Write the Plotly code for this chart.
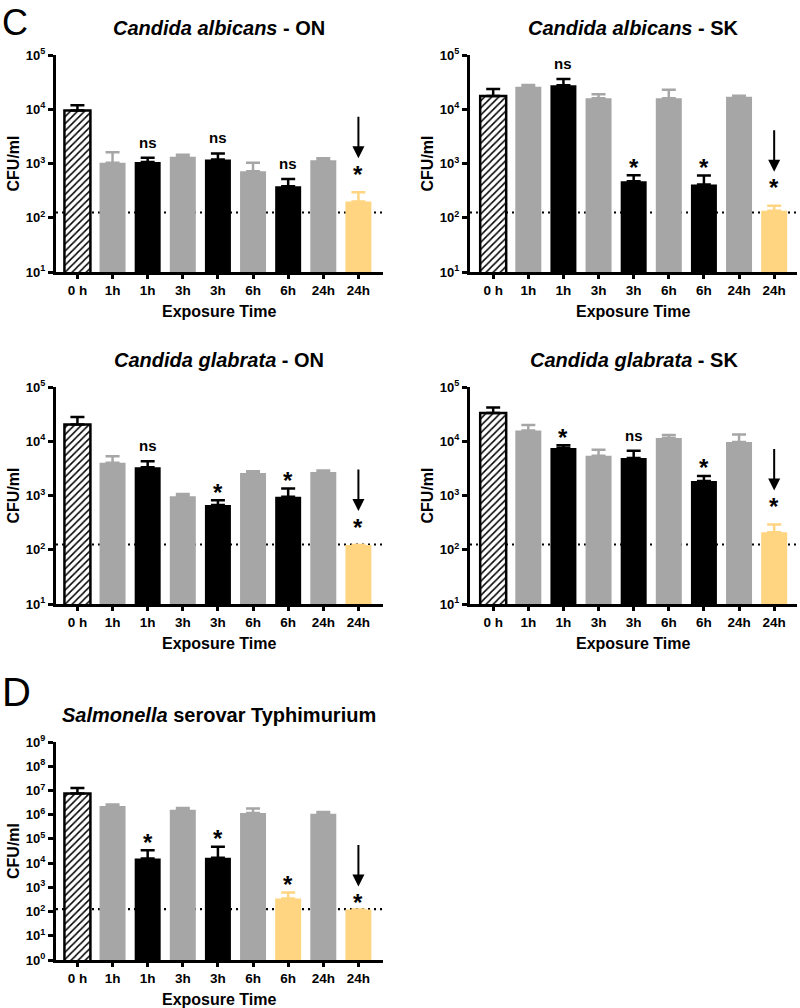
import math
import plotly.graph_objects as go

# ---------------- data ----------------
CATEGORIES = ["0 h", "1h", "1h", "3h", "3h", "6h", "6h", "24h", "24h"]
LOD = 125  # detection limit (dotted line)

GROUPS_CANDIDA = ["hatch", "grey", "black", "grey", "black", "grey", "black", "grey", "yellow"]
GROUPS_SALMONELLA = ["hatch", "grey", "black", "grey", "black", "grey", "yellow", "grey", "yellow"]

CA_ON_MEAN = [9500, 1030, 1070, 1330, 1190, 720, 380, 1150, 200]
CA_ON_TOP = [11800, 1620, 1270, 1450, 1530, 1030, 520, 1250, 295]
CA_ON_MARKS = ["", "", "ns", "", "ns", "", "ns", "", "arrow*"]

CA_SK_MEAN = [17600, 26000, 27800, 16000, 470, 16000, 410, 17000, 135]
CA_SK_TOP = [23500, 28000, 36000, 19000, 610, 23000, 600, 17800, 167]
CA_SK_MARKS = ["", "", "ns", "", "*", "", "*", "", "arrow*"]

CG_ON_MEAN = [20300, 4000, 3300, 970, 670, 2600, 950, 2700, 122]
CG_ON_TOP = [28000, 5300, 4300, 1070, 820, 2800, 1350, 2900, 122]
CG_ON_MARKS = ["", "", "ns", "", "*", "", "*", "", "arrow*"]

CG_SK_MEAN = [33000, 15700, 7500, 5400, 4900, 11500, 1860, 9700, 211]
CG_SK_TOP = [42000, 20000, 8400, 7000, 6700, 13000, 2300, 13300, 292]
CG_SK_MARKS = ["", "", "*", "", "ns", "", "*", "", "arrow*"]

ST_MEAN = [7.4e6, 2.3e6, 1.55e4, 1.6e6, 1.65e4, 1.18e6, 350, 1.1e6, 123]
ST_TOP = [1.26e7, 2.6e6, 3.4e4, 1.9e6, 4.7e4, 1.78e6, 610, 1.3e6, 123]
ST_MARKS = ["", "", "*", "", "*", "", "*", "", "arrow*"]

# ---------------- styling ----------------
W, H = 800, 1008
FONT = "Liberation Sans, Arial, sans-serif"
COLORS = {"hatch": "#000000", "grey": "#A6A6A6", "black": "#000000", "yellow": "#FFD581"}

panels = [
    dict(title="<b><i>Candida albicans</i> - ON</b>", mean=CA_ON_MEAN, top=CA_ON_TOP,
         groups=GROUPS_CANDIDA, marks=CA_ON_MARKS, box=(56, 383, 55, 272),
         xr=[-0.61, 8.70], yexp=(1, 5), arrow_star=22),
    dict(title="<b><i>Candida albicans</i> - SK</b>", mean=CA_SK_MEAN, top=CA_SK_TOP,
         groups=GROUPS_CANDIDA, marks=CA_SK_MARKS, box=(470, 797, 55, 272),
         xr=[-0.66, 8.65], yexp=(1, 5), arrow_star=22),
    dict(title="<b><i>Candida glabrata</i> - ON</b>", mean=CG_ON_MEAN, top=CG_ON_TOP,
         groups=GROUPS_CANDIDA, marks=CG_ON_MARKS, box=(56, 383, 387, 604),
         xr=[-0.61, 8.70], yexp=(1, 5), arrow_star=22),
    dict(title="<b><i>Candida glabrata</i> - SK</b>", mean=CG_SK_MEAN, top=CG_SK_TOP,
         groups=GROUPS_CANDIDA, marks=CG_SK_MARKS, box=(470, 797, 387, 604),
         xr=[-0.66, 8.65], yexp=(1, 5), arrow_star=22),
    dict(title="<b><i>Salmonella</i> serovar Typhimurium</b>", mean=ST_MEAN, top=ST_TOP,
         groups=GROUPS_SALMONELLA, marks=ST_MARKS, box=(56, 383, 742, 960),
         xr=[-0.61, 8.70], yexp=(0, 9), arrow_star=11),
]

fig = go.Figure()
layout = dict(
    width=W, height=H, margin=dict(l=0, r=0, t=0, b=0, pad=0, autoexpand=False),
    paper_bgcolor="white", plot_bgcolor="white", showlegend=False,
    barmode="overlay", font=dict(family=FONT, color="black"),
)
annotations = []
shapes = []

BAR_W = 0.74
positions = list(range(len(CATEGORIES)))


def px_x(px):
    return px / W


def px_y(py):
    return 1 - py / H


for k, p in enumerate(panels):
    n = "" if k == 0 else str(k + 1)
    xa, ya = "x" + n, "y" + n
    x0, x1, yt, yb = p["box"]
    e0, e1 = p["yexp"]

    for grp in ["hatch", "grey", "black", "yellow"]:
        idx = [i for i, g in enumerate(p["groups"]) if g == grp]
        if not idx:
            continue
        xs = [positions[i] for i in idx]
        ys = [p["mean"][i] for i in idx]
        ups = [p["top"][i] - p["mean"][i] for i in idx]
        col = COLORS[grp]
        if grp == "hatch":
            marker = dict(color="white", line=dict(color="black", width=2.5),
                          pattern=dict(shape="/", fgcolor="black", bgcolor="white",
                                       size=5, solidity=0.3, fillmode="replace"))
        else:
            marker = dict(color=col, line=dict(width=0))
        fig.add_trace(go.Bar(
            x=xs, y=ys, width=[BAR_W] * len(xs), marker=marker,
            error_y=dict(type="data", symmetric=False, array=ups,
                         arrayminus=[0] * len(xs), color=col, thickness=2.5, width=7),
            xaxis=xa, yaxis=ya, hoverinfo="skip",
        ))

    layout["xaxis" + n] = dict(
        domain=[px_x(x0), px_x(x1)], anchor=ya, range=p["xr"], automargin=False,
        tickmode="array", tickvals=positions,
        ticktext=["<b>%s</b>" % c for c in CATEGORIES],
        tickfont=dict(size=13.5, family=FONT, color="black"),
        ticks="outside", ticklen=4, tickwidth=2.5, tickcolor="black",
        showline=True, linewidth=3, linecolor="black", showgrid=False, zeroline=False,
        fixedrange=True,
    )
    layout["yaxis" + n] = dict(
        domain=[px_y(yb), px_y(yt)], anchor=xa, type="log", range=[e0, e1], automargin=False,
        tickmode="array", tickvals=[10 ** e for e in range(e0, e1 + 1)],
        ticktext=["<b>10<sup>%d</sup></b>" % e for e in range(e0, e1 + 1)],
        tickfont=dict(size=13, family=FONT, color="black"),
        ticks="outside", ticklen=5, tickwidth=2.5, tickcolor="black",
        showline=True, linewidth=3, linecolor="black", showgrid=False, zeroline=False,
        fixedrange=True,
    )

    # detection limit dotted line
    shapes.append(dict(type="line", xref=xa + " domain", yref=ya, x0=0, x1=1,
                       y0=LOD, y1=LOD, layer="below",
                       line=dict(color="black", width=2.2, dash="2px,4px")))

    # titles
    annotations.append(dict(x=px_x((x0 + x1) / 2), y=px_y(yt - 27), xref="paper", yref="paper",
                            text=p["title"], showarrow=False, xanchor="center", yanchor="middle",
                            font=dict(size=20, family=FONT, color="black")))
    annotations.append(dict(x=px_x(x0 - 43), y=px_y((yt + yb) / 2), xref="paper", yref="paper",
                            text="<b>CFU/ml</b>", textangle=-90, showarrow=False,
                            xanchor="center", yanchor="middle",
                            font=dict(size=16, family=FONT, color="black")))
    annotations.append(dict(x=px_x((x0 + x1) / 2), y=px_y(yb + 39), xref="paper", yref="paper",
                            text="<b>Exposure Time</b>", showarrow=False,
                            xanchor="center", yanchor="middle",
                            font=dict(size=16, family=FONT, color="black")))

    # significance marks
    for i, m in enumerate(p["marks"]):
        if not m:
            continue
        ytop = math.log10(p["top"][i])
        if m == "ns":
            annotations.append(dict(x=positions[i], y=ytop, xref=xa, yref=ya, text="<b>ns</b>",
                                    showarrow=False, yanchor="bottom", yshift=5,
                                    font=dict(size=15, family=FONT, color="black")))
        elif m == "*":
            annotations.append(dict(x=positions[i], y=ytop, xref=xa, yref=ya, text="<b>*</b>",
                                    showarrow=False, yanchor="middle", yshift=8,
                                    font=dict(size=24, family=FONT, color="black")))
        elif m == "arrow*":
            s = p["arrow_star"]
            annotations.append(dict(x=positions[i], y=ytop, xref=xa, yref=ya, text="<b>*</b>",
                                    showarrow=False, yanchor="middle", yshift=s - 4,
                                    font=dict(size=24, family=FONT, color="black")))
            annotations.append(dict(x=positions[i], y=ytop, xref=xa, yref=ya, text="",
                                    showarrow=True, arrowhead=2, arrowsize=1.2, arrowwidth=2,
                                    arrowcolor="black", ax=0, ay=-43, yshift=s + 12))

# panel letters
annotations.append(dict(x=0, y=1, xref="paper", yref="paper", text="C", showarrow=False,
                        xanchor="left", yanchor="top",
                        font=dict(size=36, family=FONT, color="black")))
annotations.append(dict(x=0, y=px_y(692), xref="paper", yref="paper", text="D", showarrow=False,
                        xanchor="left", yanchor="middle",
                        font=dict(size=40, family=FONT, color="black")))

layout["annotations"] = annotations
layout["shapes"] = shapes
fig.update_layout(**layout)

POST = (
    "document.documentElement.style.overflow='hidden';"
    "document.body.style.margin='0';document.body.style.overflow='hidden';"
    "var d=document.getElementById('{plot_id}');"
    "d.style.position='absolute';d.style.left='0px';d.style.top='0px';"
)
fig.write_html("out.html", post_script=POST, config={"displayModeBar": False})
